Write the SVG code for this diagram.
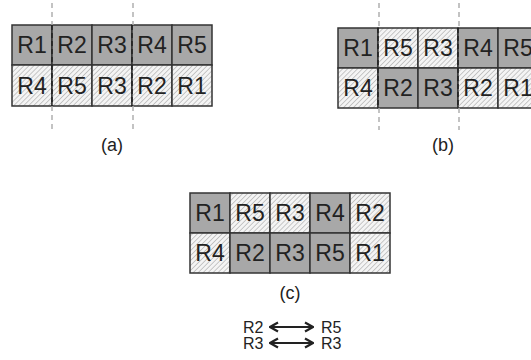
<svg xmlns="http://www.w3.org/2000/svg" width="531" height="360" viewBox="0 0 531 360">
<defs>
<pattern id="hatch" width="3.5" height="3.5" patternUnits="userSpaceOnUse" patternTransform="rotate(45)">
<rect width="3.5" height="3.5" fill="#f4f4f4"/>
<line x1="0" y1="0" x2="0" y2="3.5" stroke="#a8a8a8" stroke-width="1.2"/>
</pattern>
<marker id="ah" viewBox="0 0 12 12" refX="11" refY="6" markerWidth="12" markerHeight="12" markerUnits="userSpaceOnUse" orient="auto-start-reverse">
<polyline points="3,1.5 11,6 3,10.5" fill="none" stroke="#222" stroke-width="2.2"/>
</marker>
</defs>
<style>
.g{fill:#a8a8a8;stroke:#333;stroke-width:1.5}
.h{fill:url(#hatch);stroke:#333;stroke-width:1.5}
.t{font-family:"Liberation Sans",Arial,sans-serif;font-size:23px;fill:#222;text-anchor:middle}
.cap{font-family:"Liberation Sans",Arial,sans-serif;font-size:18px;fill:#222;text-anchor:middle}
.sm{font-family:"Liberation Sans",Arial,sans-serif;font-size:16px;fill:#222}
.gd{stroke:#b0b0b0;stroke-width:1.5;stroke-dasharray:5,4;fill:none}
.dd{stroke:#222;stroke-width:1.5;stroke-dasharray:5,3;fill:none}
.ar{stroke:#222;stroke-width:2.2;fill:none}
</style>
<rect width="531" height="360" fill="#fff"/>

<g id="panel-a">
<rect class="g" x="12" y="25" width="40" height="40"/>
<rect class="g" x="52" y="25" width="40" height="40"/>
<rect class="g" x="92" y="25" width="40" height="40"/>
<rect class="g" x="132" y="25" width="40" height="40"/>
<rect class="g" x="172" y="25" width="40" height="40"/>
<rect class="h" x="12" y="65" width="40" height="41"/>
<rect class="h" x="52" y="65" width="40" height="41"/>
<rect class="h" x="92" y="65" width="40" height="41"/>
<rect class="h" x="132" y="65" width="40" height="41"/>
<rect class="h" x="172" y="65" width="40" height="41"/>
<text class="t" x="32" y="53">R1</text>
<text class="t" x="72" y="53">R2</text>
<text class="t" x="112" y="53">R3</text>
<text class="t" x="152" y="53">R4</text>
<text class="t" x="192" y="53">R5</text>
<text class="t" x="32" y="94">R4</text>
<text class="t" x="72" y="94">R5</text>
<text class="t" x="112" y="94">R3</text>
<text class="t" x="152" y="94">R2</text>
<text class="t" x="192" y="94">R1</text>
<text class="cap" x="112" y="151">(a)</text>
</g>

<g id="panel-b">
<rect class="g" x="338" y="28" width="40" height="40"/>
<rect class="h" x="378" y="28" width="40" height="40"/>
<rect class="h" x="418" y="28" width="40" height="40"/>
<rect class="g" x="458" y="28" width="40" height="40"/>
<rect class="g" x="498" y="28" width="40" height="40"/>
<rect class="h" x="338" y="68" width="40" height="40"/>
<rect class="g" x="378" y="68" width="40" height="40"/>
<rect class="g" x="418" y="68" width="40" height="40"/>
<rect class="h" x="458" y="68" width="40" height="40"/>
<rect class="h" x="498" y="68" width="40" height="40"/>
<text class="t" x="358" y="56">R1</text>
<text class="t" x="398" y="56">R5</text>
<text class="t" x="438" y="56">R3</text>
<text class="t" x="478" y="56">R4</text>
<text class="t" x="518" y="56">R5</text>
<text class="t" x="358" y="96">R4</text>
<text class="t" x="398" y="96">R2</text>
<text class="t" x="438" y="96">R3</text>
<text class="t" x="478" y="96">R2</text>
<text class="t" x="518" y="96">R1</text>
<text class="cap" x="443" y="151">(b)</text>
</g>

<g id="panel-c">
<rect class="g" x="190" y="193" width="40" height="40"/>
<rect class="h" x="230" y="193" width="40" height="40"/>
<rect class="h" x="270" y="193" width="40" height="40"/>
<rect class="g" x="310" y="193" width="40" height="40"/>
<rect class="h" x="350" y="193" width="40" height="40"/>
<rect class="h" x="190" y="233" width="40" height="40"/>
<rect class="g" x="230" y="233" width="40" height="40"/>
<rect class="g" x="270" y="233" width="40" height="40"/>
<rect class="g" x="310" y="233" width="40" height="40"/>
<rect class="h" x="350" y="233" width="40" height="40"/>
<text class="t" x="210" y="221">R1</text>
<text class="t" x="250" y="221">R5</text>
<text class="t" x="290" y="221">R3</text>
<text class="t" x="330" y="221">R4</text>
<text class="t" x="370" y="221">R2</text>
<text class="t" x="210" y="261">R4</text>
<text class="t" x="250" y="261">R2</text>
<text class="t" x="290" y="261">R3</text>
<text class="t" x="330" y="261">R5</text>
<text class="t" x="370" y="261">R1</text>
<text class="cap" x="290" y="299">(c)</text>
</g>

<g id="swaps">
<text class="sm" x="243" y="333">R2</text>
<text class="sm" x="321" y="333">R5</text>
<text class="sm" x="243" y="349">R3</text>
<text class="sm" x="321" y="349">R3</text>
</g>

<g id="connectors">
<line class="gd" x1="52" y1="3" x2="52" y2="25"/>
<line class="gd" x1="52" y1="106" x2="52" y2="130"/>
<line class="gd" x1="133" y1="3" x2="133" y2="25"/>
<line class="gd" x1="133" y1="106" x2="133" y2="130"/>
<line class="dd" x1="52" y1="25" x2="52" y2="106"/>
<line class="dd" x1="132" y1="25" x2="132" y2="106"/>
<line class="gd" x1="379" y1="3" x2="379" y2="28"/>
<line class="gd" x1="379" y1="108" x2="379" y2="130"/>
<line class="gd" x1="459" y1="3" x2="459" y2="28"/>
<line class="gd" x1="459" y1="108" x2="459" y2="130"/>
<line class="dd" x1="378" y1="28" x2="378" y2="108"/>
<line class="dd" x1="458" y1="28" x2="458" y2="108"/>
<line class="ar" x1="270" y1="327" x2="313" y2="327" marker-start="url(#ah)" marker-end="url(#ah)"/>
<line class="ar" x1="270" y1="343" x2="313" y2="343" marker-start="url(#ah)" marker-end="url(#ah)"/>
</g>
</svg>
